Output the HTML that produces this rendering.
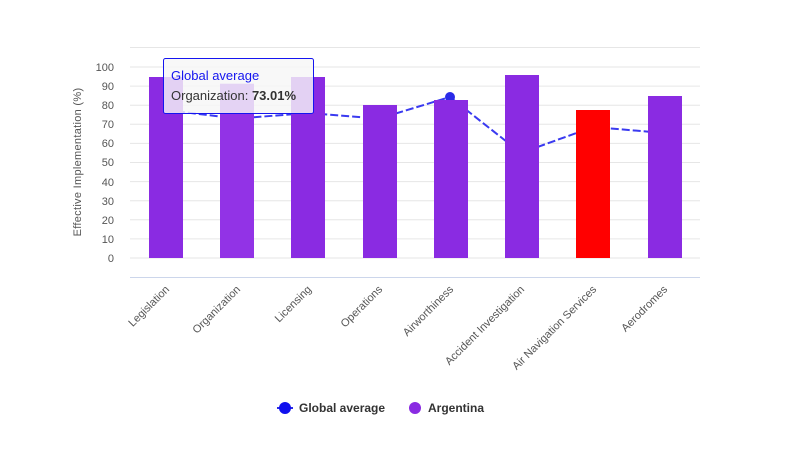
<!DOCTYPE html><html><head><style>body{margin:0;background:#fff}svg{font-family:"Liberation Sans",sans-serif}</style></head><body>
<svg width="786" height="459" xmlns="http://www.w3.org/2000/svg">
<g stroke="#e6e6e6" stroke-width="1">
<line x1="130" x2="700" y1="47.5" y2="47.5"/><line x1="130" x2="700" y1="67" y2="67"/><line x1="130" x2="700" y1="86.1" y2="86.1"/><line x1="130" x2="700" y1="105.2" y2="105.2"/><line x1="130" x2="700" y1="124.3" y2="124.3"/><line x1="130" x2="700" y1="143.4" y2="143.4"/><line x1="130" x2="700" y1="162.5" y2="162.5"/><line x1="130" x2="700" y1="181.6" y2="181.6"/><line x1="130" x2="700" y1="200.7" y2="200.7"/><line x1="130" x2="700" y1="219.8" y2="219.8"/><line x1="130" x2="700" y1="238.9" y2="238.9"/><line x1="130" x2="700" y1="258" y2="258"/>
</g>
<line x1="130" x2="700" y1="277.5" y2="277.5" stroke="#ccd6eb"/>
<g fill="#555" font-size="11" text-anchor="end">
<text x="114" y="71">100</text><text x="114" y="90">90</text><text x="114" y="109">80</text><text x="114" y="128">70</text><text x="114" y="147">60</text><text x="114" y="166">50</text><text x="114" y="186">40</text><text x="114" y="205">30</text><text x="114" y="224">20</text><text x="114" y="243">10</text><text x="114" y="262">0</text>
</g>
<text transform="translate(81,162) rotate(-90)" text-anchor="middle" fill="#555" font-size="11" letter-spacing="0.3">Effective Implementation (%)</text>
<polyline points="166,110 237,118.6 308,113 379,118.6 450,97 521,153 593,127 664,133" fill="none" stroke="#3a3af0" stroke-width="2" stroke-dasharray="8,3"/>
<circle cx="450" cy="97" r="5" fill="#2a2ae8"/>
<g fill="#8a2be2">
<rect x="149" y="77" width="34" height="181"/><rect x="220" y="83.7" width="34" height="174.3" fill="#9233e6"/><rect x="291" y="77" width="34" height="181"/><rect x="363" y="105" width="34" height="153"/><rect x="434" y="100" width="34" height="158"/><rect x="505" y="75" width="34" height="183"/><rect x="576" y="110" width="34" height="148" fill="#ff0000"/><rect x="648" y="96" width="34" height="162"/>
</g>
<g fill="#555" font-size="11" text-anchor="end">
<text transform="translate(170,290) rotate(-45)">Legislation</text>
<text transform="translate(241,290) rotate(-45)">Organization</text>
<text transform="translate(312,290) rotate(-45)">Licensing</text>
<text transform="translate(383,290) rotate(-45)">Operations</text>
<text transform="translate(454,290) rotate(-45)">Airworthiness</text>
<text transform="translate(525,290) rotate(-45)">Accident Investigation</text>
<text transform="translate(597,290) rotate(-45)">Air Navigation Services</text>
<text transform="translate(668,290) rotate(-45)">Aerodromes</text>
</g>
<rect x="163.5" y="58.5" width="150" height="55" rx="2" fill="rgba(247,247,247,0.82)" stroke="#1515f0"/>
<text x="171" y="80" fill="#1515f0" font-size="13">Global average</text>
<text x="171" y="100" fill="#333" font-size="13">Organization: <tspan font-weight="bold">73.01%</tspan></text>
<line x1="277" x2="293" y1="408" y2="408" stroke="#2a2ae8" stroke-width="2"/>
<circle cx="285" cy="408" r="6" fill="#1010ee"/>
<text x="299" y="412" font-size="12" font-weight="bold" fill="#333">Global average</text>
<circle cx="415" cy="408" r="6" fill="#8a2be2"/>
<text x="428" y="412" font-size="12" font-weight="bold" fill="#333">Argentina</text>
</svg></body></html>
